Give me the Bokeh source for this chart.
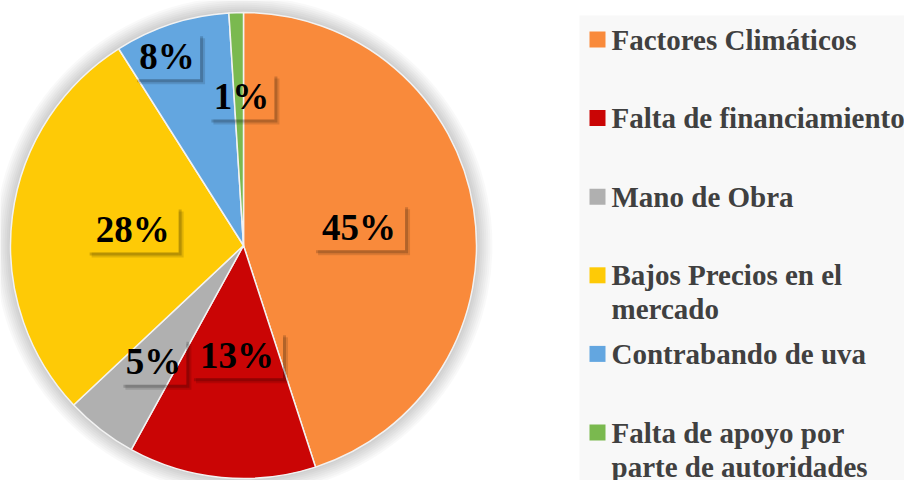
import numpy as np
from bokeh.plotting import figure
from bokeh.models import Range1d
from bokeh.core.properties import value
from bokeh.embed import file_html
from bokeh.resources import INLINE

# ---- data ----
categories = [
    "Factores Climáticos",
    "Falta de financiamiento",
    "Mano de Obra",
    "Bajos Precios en el\nmercado",
    "Contrabando de uva",
    "Falta de apoyo por\nparte de autoridades",
]
percent = [45, 13, 5, 28, 8, 1]
colors = ["#F98A3B", "#CA0505", "#B0B0B0", "#FECA06", "#63A6E0", "#7AB94F"]
label_texts = [f"{v}%" for v in percent]

# ---- style / layout ----
W, H = 904, 480
CX, CY, R = 243, 235, 233          # pie centre / radius in pixel units
label_r = [117, 110, 147, 112, 204, 149]
label_dang = [0, -2, 0, 1, -4, 1]  # degrees
LEG_X, LEG_Y0, LEG_DY, LINE_DY = 597, 480 - 39, 78.6, 34
FONT = value("Liberation Serif")

p = figure(width=W, height=H, x_range=Range1d(0, W), y_range=Range1d(0, H),
           output_backend="svg", toolbar_location=None, min_border=0,
           x_axis_location=None, y_axis_location=None)
p.grid.visible = False
p.outline_line_color = None
p.background_fill_color = "white"
p.border_fill_color = "white"

# soft glow around the pie
for k in range(8, 0, -1):
    p.annulus(x=CX, y=CY, inner_radius=R, outer_radius=R + 2 * k,
              fill_color="black", fill_alpha=0.022, line_color=None)

frac = np.array(percent, dtype=float) / np.sum(percent)
cum = np.cumsum(frac)
start = np.pi / 2 - 2 * np.pi * (cum - frac)
end = np.pi / 2 - 2 * np.pi * cum
p.wedge(x=CX, y=CY, radius=R, start_angle=list(start), end_angle=list(end),
        direction="clock", fill_color=colors, line_color="#f2f2f2", line_width=1.5)

# data labels
mid = 2 * np.pi * (cum - frac / 2) + np.radians(label_dang)
lx = CX + np.array(label_r) * np.sin(mid)
ly = CY + np.array(label_r) * np.cos(mid)
bw = np.array([26 * len(t) + 14 for t in label_texts], dtype=float)
bh = 46.0
for a, off in ((0.12, 5), (0.18, 3)):
    # right strip
    p.quad(left=lx + bw / 2, right=lx + bw / 2 + off, top=ly + bh / 2 - off,
           bottom=ly - bh / 2 - off, fill_color="black", fill_alpha=a, line_color=None)
    # bottom strip
    p.quad(left=lx - bw / 2 + off, right=lx + bw / 2, top=ly - bh / 2,
           bottom=ly - bh / 2 - off, fill_color="black", fill_alpha=a, line_color=None)
p.text(x=list(lx), y=list(ly), text=label_texts, text_font=FONT, text_font_style="bold",
       text_font_size="37px", text_align="center", text_baseline="middle", text_color="black")

# legend
p.quad(left=579, right=W + 10, bottom=-10, top=480 - 15, fill_color="#f8f8f8", line_color=None)
ys = [LEG_Y0 - i * LEG_DY for i in range(len(categories))]
p.rect(x=[LEG_X] * len(categories), y=ys, width=16, height=16, fill_color=colors, line_color=None)
tx, ty, tt = [], [], []
for cat, y in zip(categories, ys):
    for k, line in enumerate(cat.split("\n")):
        tx.append(LEG_X + 14)
        ty.append(y - k * LINE_DY)
        tt.append(line)
p.text(x=tx, y=ty, text=tt, text_font=FONT, text_font_style="bold", text_font_size="29px",
       text_align="left", text_baseline="middle", text_color="#404040")

open("out.html", "w").write(file_html(p, INLINE))
